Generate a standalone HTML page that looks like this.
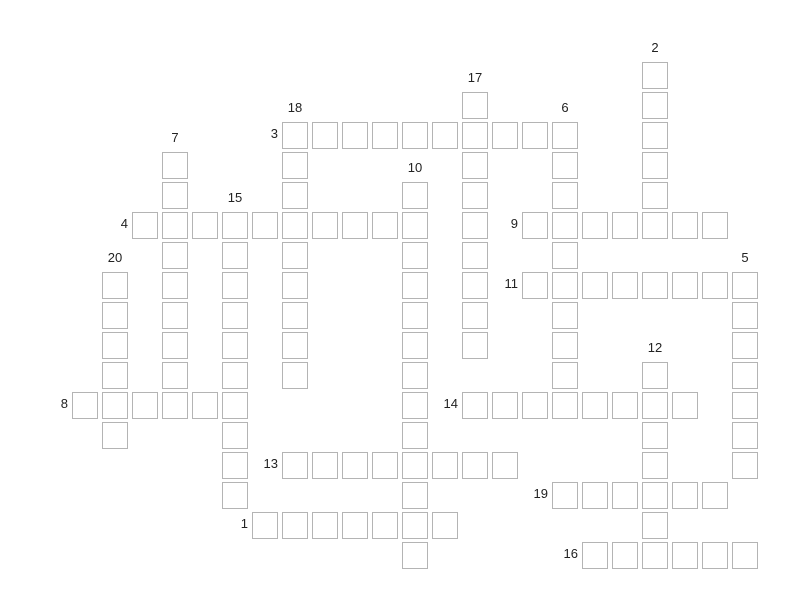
<!DOCTYPE html>
<html><head><meta charset="utf-8"><style>
body{margin:0;width:800px;height:600px;background:#fff;position:relative;overflow:hidden;font-family:"Liberation Sans",sans-serif;}
.c{position:absolute;width:24px;height:25px;border:1px solid #b4b4b4;background:#fff;box-sizing:content-box}
.n{position:absolute;font-size:13px;color:#222;line-height:14px}
.d{width:30px;text-align:center}
.a{width:30px;text-align:right}
</style></head><body>
<div id="g"></div>
<div class="n d" style="left:640px;top:41px">2</div>
<div class="n d" style="left:460px;top:71px">17</div>
<div class="n d" style="left:280px;top:101px">18</div>
<div class="n d" style="left:550px;top:101px">6</div>
<div class="n d" style="left:160px;top:131px">7</div>
<div class="n d" style="left:400px;top:161px">10</div>
<div class="n d" style="left:220px;top:191px">15</div>
<div class="n d" style="left:100px;top:251px">20</div>
<div class="n d" style="left:730px;top:251px">5</div>
<div class="n d" style="left:640px;top:341px">12</div>
<div class="n a" style="left:248px;top:127px">3</div>
<div class="n a" style="left:98px;top:217px">4</div>
<div class="n a" style="left:488px;top:217px">9</div>
<div class="n a" style="left:488px;top:277px">11</div>
<div class="n a" style="left:38px;top:397px">8</div>
<div class="n a" style="left:428px;top:397px">14</div>
<div class="n a" style="left:248px;top:457px">13</div>
<div class="n a" style="left:518px;top:487px">19</div>
<div class="n a" style="left:218px;top:517px">1</div>
<div class="n a" style="left:548px;top:547px">16</div>
<script>
var W=[[19,0,6,'d'],[13,1,9,'d'],[7,2,9,'d'],[7,2,10,'a'],[16,2,10,'d'],[3,3,9,'d'],[11,4,13,'d'],[5,5,10,'d'],[2,5,10,'a'],[15,5,7,'a'],[1,7,6,'d'],[22,7,7,'d'],[15,7,8,'a'],[19,10,6,'d'],[0,11,6,'a'],[13,11,8,'a'],[7,13,8,'a'],[16,14,6,'a'],[6,15,7,'a'],[17,16,6,'a']];
var s={},h='';
W.forEach(function(w){for(var i=0;i<w[2];i++){var c=w[0]+(w[3]=='a'?i:0),r=w[1]+(w[3]=='d'?i:0),k=c+','+r;if(!s[k]){s[k]=1;h+='<div class="c" style="left:'+(72+30*c)+'px;top:'+(62+30*r)+'px"></div>';}}});
document.getElementById('g').innerHTML=h;
</script>
</body></html>
